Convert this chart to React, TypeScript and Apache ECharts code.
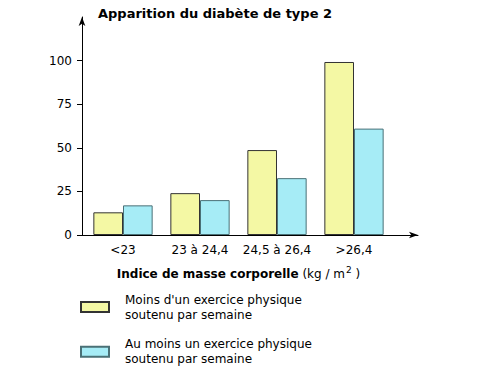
import React, { useEffect, useRef } from "react";
import * as echarts from "echarts";

const categories = ["<23", "23 à 24,4", "24,5 à 26,4", ">26,4"];
const lowExercise = [13, 24, 48.7, 99.2];
const highExercise = [17, 20, 32.6, 61];
const yTicks = [0, 25, 50, 75, 100];
const seriesNames = [
  "Moins d'un exercice physique\nsoutenu par semaine",
  "Au moins un exercice physique\nsoutenu par semaine",
];
const titleText = "Apparition du diabète de type 2";

export default function App() {
  const ref = useRef<HTMLDivElement>(null);
  useEffect(() => {
    if (!ref.current) return;
    const chart = echarts.init(ref.current, undefined, { renderer: "svg" });
    const font = "DejaVu Sans, Verdana, sans-serif";
    chart.setOption({
      animation: false,
      backgroundColor: "#ffffff",
      textStyle: { fontFamily: font, color: "#000" },
      title: {
        text: titleText,
        left: 98,
        top: 7,
        padding: 0,
        textStyle: { fontFamily: font, fontSize: 13, fontWeight: "bold", color: "#000" },
      },
      grid: [
        { left: 82, top: 17, width: 336, height: 218 },
        { left: 84.5, top: 17, width: 308, height: 218 },
      ],
      xAxis: [
        {
          type: "value",
          gridIndex: 0,
          min: 0,
          max: 1,
          axisLine: {
            show: true,
            lineStyle: { color: "#000", width: 1 },
            symbol: ["none", "arrow"],
            symbolSize: [5, 9],
          },
          axisTick: { show: false },
          axisLabel: { show: false },
          splitLine: { show: false },
        },
        {
          type: "category",
          gridIndex: 1,
          data: categories,
          axisLine: { show: false },
          axisTick: { show: false },
          axisLabel: { interval: 0, margin: 9, fontSize: 12, color: "#000", fontFamily: font },
          name: "{b|Indice de masse corporelle} {n|(kg / m}{s|2}{n| )}",
          nameLocation: "middle",
          nameGap: 30,
          nameTextStyle: {
            rich: {
              b: { fontFamily: font, fontSize: 12, fontWeight: "bold", color: "#000", lineHeight: 17 },
              n: { fontFamily: font, fontSize: 12, color: "#000", lineHeight: 17 },
              s: { fontFamily: font, fontSize: 9, color: "#000", verticalAlign: "top", lineHeight: 17, padding: [0, 0, 6, 1] },
            },
          },
        },
      ],
      yAxis: [
        {
          type: "value",
          gridIndex: 0,
          min: 0,
          max: 125,
          interval: 25,
          axisLine: {
            show: true,
            lineStyle: { color: "#000", width: 1 },
            symbol: ["none", "arrow"],
            symbolSize: [5, 9],
          },
          axisTick: { show: true, length: 5, customValues: yTicks, lineStyle: { color: "#000" } },
          axisLabel: { customValues: yTicks, margin: 10, fontSize: 12, color: "#000", fontFamily: font },
          splitLine: { show: false },
        },
        {
          type: "value",
          gridIndex: 1,
          min: 0,
          max: 125,
          interval: 25,
          show: false,
          splitLine: { show: false },
        },
      ],
      legend: {
        orient: "vertical",
        left: 80,
        top: 286.5,
        padding: 0,
        itemWidth: 28,
        itemHeight: 10,
        itemGap: 3.7,
        icon: "rect",
        textStyle: {
          fontFamily: font,
          fontSize: 12,
          color: "#000",
          lineHeight: 15,
          padding: [11, 0, 0, 11],
        },
        data: seriesNames,
      },
      series: [
        {
          name: seriesNames[0],
          type: "bar",
          xAxisIndex: 1,
          yAxisIndex: 1,
          data: lowExercise,
          barGap: "0%",
          barCategoryGap: "23%",
          itemStyle: { color: "#f4f8a4", borderColor: "#333333", borderWidth: 1 },
        },
        {
          name: seriesNames[1],
          type: "bar",
          xAxisIndex: 1,
          yAxisIndex: 1,
          data: highExercise,
          barGap: "0%",
          barCategoryGap: "23%",
          itemStyle: { color: "#a6ecf6", borderColor: "#4a7076", borderWidth: 1 },
        },
      ],
    });
    return () => chart.dispose();
  }, []);
  return <div ref={ref} style={{ position: "fixed", left: 0, top: 0, width: 480, height: 373 }} />;
}
